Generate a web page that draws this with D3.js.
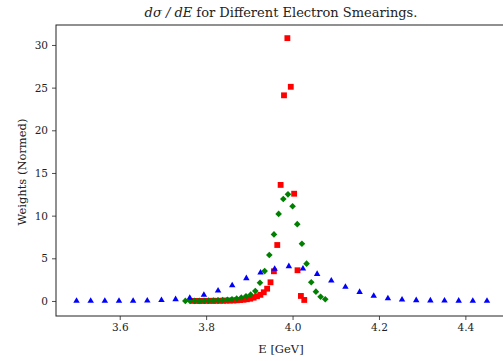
<!DOCTYPE html>
<html>
  <head>
    <meta charset="utf-8">
    <style>
      body { margin: 0; background: white; }
      text { font-family: "DejaVu Serif", "Liberation Serif", serif; fill: #222; }
    </style>
  </head>
  <body>
    <div id="chart"></div>
    <script src="https://d3js.org/d3.v7.min.js"></script>
    <script>

    // ---------------------------------------------- data
    var blueE = [3.5, 3.5328, 3.5655, 3.5983, 3.6310, 3.6638, 3.6966, 3.7293, 3.7621, 3.7948,
                 3.8276, 3.8603, 3.8931, 3.9259, 3.9586, 3.9914, 4.0241, 4.0569, 4.0897, 4.1224,
                 4.1552, 4.1879, 4.2207, 4.2534, 4.2862, 4.3190, 4.3517, 4.3845, 4.4172, 4.45];
    var blueW = [0, 0, 0, 0, 0.01, 0.03, 0.1, 0.2, 0.35, 0.7,
                 1.2, 1.83, 2.66, 3.32, 3.75, 4.06, 3.79, 3.16, 2.38, 1.64,
                 1.05, 0.59, 0.3, 0.15, 0.08, 0.05, 0.03, 0.02, 0.01, 0.01];

    var redE = [3.7693, 3.7771, 3.7849, 3.7927, 3.8006, 3.8084, 3.8162, 3.8240, 3.8318, 3.8396,
                3.8474, 3.8552, 3.8630, 3.8709, 3.8787, 3.8865, 3.8943, 3.9021, 3.9099, 3.9177,
                3.9256, 3.9334, 3.9412, 3.9490, 3.9568, 3.9646, 3.9724, 3.9802, 3.9880, 3.9959,
                4.0037, 4.0115, 4.0193, 4.0271];
    var redW = [0.01, 0.01, 0.01, 0.01, 0.015, 0.015, 0.02, 0.02, 0.025, 0.03,
                0.04, 0.05, 0.06, 0.08, 0.11, 0.15, 0.2, 0.27, 0.39, 0.55,
                0.72, 1.02, 1.44, 2.19, 3.48, 6.56, 13.6, 24.1, 30.8, 25.1,
                12.57, 3.6, 0.59, 0.12];

    var greenE = [3.7519, 3.7627, 3.7735, 3.7843, 3.7951, 3.8059, 3.8167, 3.8275, 3.8383, 3.8491,
                  3.8598, 3.8706, 3.8814, 3.8922, 3.9030, 3.9138, 3.9246, 3.9354, 3.9462, 3.9570,
                  3.9678, 3.9786, 3.9894, 4.0001, 4.0109, 4.0217, 4.0325, 4.0433, 4.0541, 4.0649,
                  4.0757];
    var greenW = [0.01, 0.01, 0.02, 0.02, 0.03, 0.04, 0.05, 0.08, 0.11, 0.15,
                  0.2, 0.27, 0.39, 0.55, 0.74, 1.17, 2.14, 3.5, 5.39, 7.8,
                  10.2, 11.95, 12.5, 11.1, 9.0, 6.7, 4.37, 2.19, 1.09, 0.5,
                  0.2];

    var xTicks = [3.6, 3.8, 4.0, 4.2, 4.4];
    var yTicks = [0, 5, 10, 15, 20, 25, 30];

    // ---------------------------------------------- layout
    var width = 503, height = 361;
    // right spine falls just off the image, like in the original
    var plot = {left: 56, top: 25, bottom: 316, right: 507.5};

    var svg = d3.select("#chart").append("svg")
        .attr("width", width)
        .attr("height", height);

    var x = d3.scaleLinear().domain([3.4525, 4.4975]).range([plot.left, plot.right]);
    var y = d3.scaleLinear().domain([-1.76, 32.34]).range([plot.bottom, plot.top]);

    // axes
    svg.append("g")
        .attr("transform", "translate(0," + plot.bottom + ")")
        .call(d3.axisBottom(x).tickValues(xTicks).tickFormat(d3.format(".1f")).tickSize(4).tickPadding(4))
        .call(g => g.select(".domain").remove())
        .selectAll("text").style("font-size", "10.5px").attr("fill", "#222");

    svg.append("g")
        .attr("transform", "translate(" + plot.left + ",0)")
        .call(d3.axisLeft(y).tickValues(yTicks).tickSize(4).tickPadding(4))
        .call(g => g.select(".domain").remove())
        .selectAll("text").style("font-size", "10.5px").attr("fill", "#222");

    svg.selectAll(".tick line").attr("stroke", "#222").attr("stroke-width", 0.8);

    // frame
    svg.append("rect")
        .attr("x", plot.left)
        .attr("y", plot.top)
        .attr("width", plot.right - plot.left)
        .attr("height", plot.bottom - plot.top)
        .attr("fill", "none")
        .attr("stroke", "#222")
        .attr("stroke-width", 1);

    // ---------------------------------------------- points
    function drawSeries(xs, ys, color, sym, size, rot) {
      svg.append("g").selectAll("path")
          .data(xs.map((e, i) => [e, ys[i]]))
          .enter().append("path")
          .attr("d", d3.symbol().type(sym).size(size))
          .attr("transform", d => "translate(" + x(d[0]) + "," + y(d[1]) + ") rotate(" + rot + ")")
          .attr("fill", color);
    }

    drawSeries(redE, redW, "#ff0000", d3.symbolSquare, 34, 0);
    drawSeries(greenE, greenW, "#008000", d3.symbolSquare, 22, 45);
    drawSeries(blueE, blueW, "#0000ff", d3.symbolTriangle, 18, 0);

    // ---------------------------------------------- labels
    var title = svg.append("text")
        .attr("x", 281)
        .attr("y", 17)
        .attr("text-anchor", "middle")
        .style("font-size", "13px");
    title.append("tspan").style("font-style", "italic").text("dσ / dE");
    title.append("tspan").text(" for Different Electron Smearings.");

    svg.append("text")
        .attr("x", 281)
        .attr("y", 353)
        .attr("text-anchor", "middle")
        .style("font-size", "11.5px")
        .text("E [GeV]");

    svg.append("text")
        .attr("transform", "translate(26,172) rotate(-90)")
        .attr("text-anchor", "middle")
        .style("font-size", "11.5px")
        .text("Weights (Normed)");
    </script>
  </body>
</html>
